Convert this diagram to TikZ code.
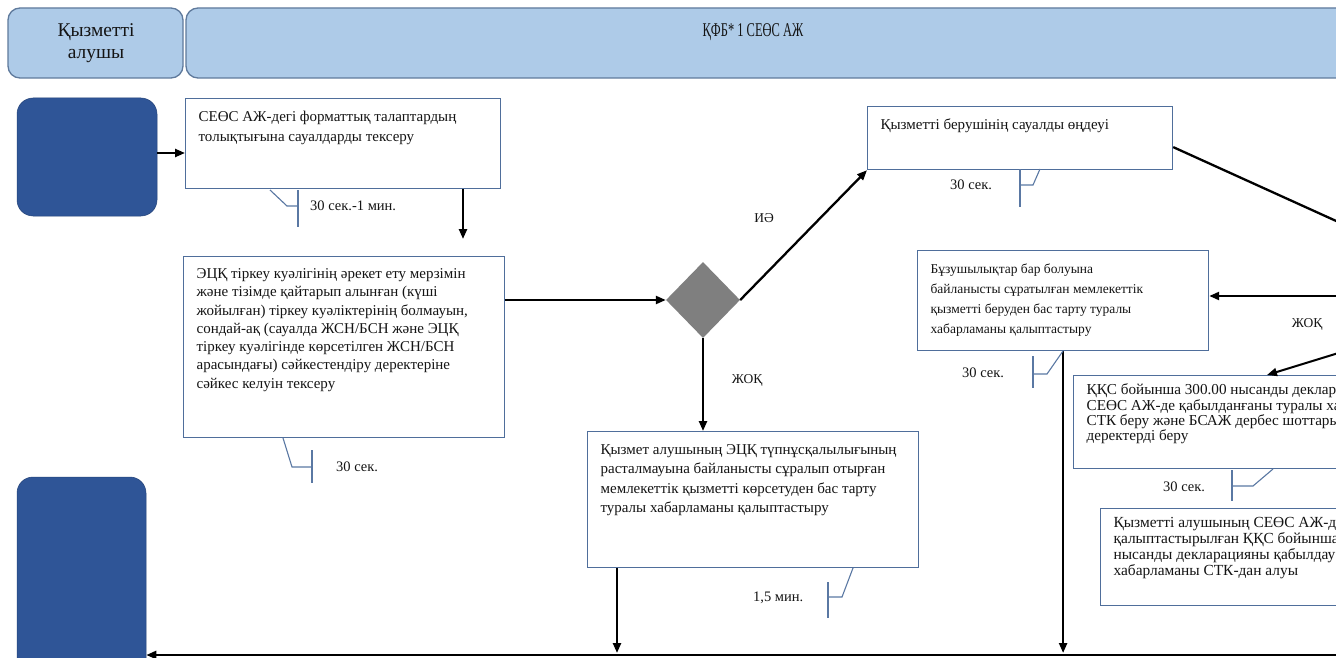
\documentclass[tikz,border=0pt]{standalone}
\usepackage{fontspec}
\setmainfont{Liberation Serif}
\usetikzlibrary{arrows.meta,shapes.geometric}

\definecolor{hdrfill}{HTML}{AECBE8}
\definecolor{hdrline}{HTML}{5F7A9C}
\definecolor{termblue}{HTML}{2F5597}
\definecolor{boxline}{HTML}{4F6E9B}
\definecolor{timeline}{HTML}{5A78A3}
\definecolor{decgray}{HTML}{7F7F7F}
\definecolor{inkc}{HTML}{141414}

% body of a process box: width, height, font size, baselineskip, text
\newcommand{\procbody}[5]{\parbox[t][#2][t]{#1}{\raggedright\fontsize{#3}{#4}\selectfont\strut #5}}

\tikzset{
  hdr/.style={draw=hdrline, line width=1.3pt, fill=hdrfill, rounded corners=12pt, inner sep=0pt},
  hdrtext/.style={font=\fontsize{19.5}{22}\selectfont, text=inkc, align=center, inner sep=0pt},
  term/.style={fill=termblue, draw=termblue!80!black, line width=0.5pt, rounded corners=16pt, inner sep=0pt},
  proc/.style={draw=boxline, line width=1.2pt, fill=white, anchor=north west,
               inner xsep=13pt, inner ysep=9pt, text=inkc},
  decision/.style={diamond, fill=decgray, inner sep=0pt, minimum width=74pt, minimum height=76pt},
  arr/.style={draw=black, line width=2.3pt, -{Triangle[length=10pt,width=8pt]}},
  plain/.style={draw=black, line width=2.3pt},
  timer/.style={draw=timeline, line width=1.1pt},
  tlabel/.style={font=\fontsize{14.5}{16}\selectfont, text=inkc, inner sep=1pt},
  flabel/.style={font=\fontsize{13.5}{15}\selectfont, text=inkc, inner sep=1pt},
}

\begin{document}
\begin{tikzpicture}[x=1pt,y=-1pt]
\useasboundingbox (0,0) rectangle (1336,658);
\clip (0,0) rectangle (1336,658);
\fill[white] (0,0) rectangle (1336,658);

% swimlane headers
\node[hdr, minimum width=175pt, minimum height=70pt] (h1) at (95.5,43) {};
\node[hdrtext] (h1t) at (96,43) {Қызметті\\алушы};
\node[hdr, minimum width=1170pt, minimum height=70pt] (h2) at (771,43) {};
\node[hdrtext] (h2t) at (753,32) {\scalebox{0.64}[1]{ҚФБ* 1 СЕӨС АЖ}};

% start and end terminals
\node[term, minimum width=140pt, minimum height=118pt] (s1) at (87,157) {};
\node[term, minimum width=129pt, minimum height=223pt] (s2) at (81.5,588.5) {};

% process boxes
\node[proc] (b1) at (185,98) {\procbody{289pt}{72pt}{15}{20pt}{СЕӨС АЖ-дегі форматтық талаптардың\\толықтығына сауалдарды тексеру}};
\node[proc] (b2) at (183,256) {\procbody{295pt}{163pt}{15}{18.3pt}{ЭЦҚ тіркеу куәлігінің әрекет ету мерзімін\\және тізімде қайтарып алынған (күші\\жойылған) тіркеу куәліктерінің болмауын,\\сондай-ақ (сауалда ЖСН/БСН және ЭЦҚ\\тіркеу куәлігінде көрсетілген ЖСН/БСН\\арасындағы) сәйкестендіру деректеріне\\сәйкес келуін тексеру}};
\node[proc] (b3) at (867,106) {\procbody{279pt}{45pt}{15}{20pt}{Қызметті берушінің сауалды өңдеуі}};
\node[proc] (b4) at (587,431) {\procbody{305pt}{118pt}{15}{19.5pt}{Қызмет алушының ЭЦҚ түпнұсқалылығының\\расталмауына байланысты сұралып отырған\\мемлекеттік қызметті көрсетуден бас тарту\\туралы хабарламаны қалыптастыру}};
\node[proc] (b5) at (917,250) {\procbody{265pt}{82pt}{13.5}{20pt}{Бұзушылықтар бар болуына\\байланысты сұратылған мемлекеттік\\қызметті беруден бас тарту туралы\\хабарламаны қалыптастыру}};
\node[proc, inner ysep=8pt] (b6) at (1073,375) {\procbody{330pt}{77pt}{15.2}{15pt}{ҚҚС бойынша 300.00 нысанды декларацияның\\СЕӨС АЖ-де қабылданғаны туралы хабарламаны\\СТК беру және БСАЖ дербес шоттарына\\деректерді беру}};
\node[proc, inner ysep=8pt] (b7) at (1100,508) {\procbody{300pt}{81pt}{15.4}{16pt}{Қызметті алушының СЕӨС АЖ-да\\қалыптастырылған ҚҚС бойынша 300.00\\нысанды декларацияны қабылдау туралы\\хабарламаны СТК-дан алуы}};

% decision
\node[decision] (d) at (703,300) {};

% free ends of connectors
\coordinate (a2end) at (463,239);
\coordinate (bl) at (617,653);
\coordinate (offA) at (1345,225);
\coordinate (offB) at (1345,296);
\coordinate (offC) at (1345,351);
\coordinate (b6in) at (1267,375);
\coordinate (offD) at (1345,655);

% connectors
\draw[arr] ([yshift=4pt]s1.east) -- ([yshift=4pt]s1.east -| b1.west);
\draw[arr] (b1.south -| a2end) -- (a2end);
\draw[arr] (d.west -| b2.east) -- (d.west);
\draw[arr] (d.east) -- (b3.south west);
\draw[arr] (d.south) -- (d.south |- b4.north);
\draw[arr] (b4.south -| bl) -- (bl);
\draw[plain] ([yshift=-9pt]b3.east) -- (offA);
\draw[arr] (offB) -- (offB -| b5.east);
\draw[arr, line width=2pt] (offC) -- (b6in);
\draw[arr] (b5.south) -- (b5.south |- bl);
\draw[arr, line width=2.8pt] (offD) -- (offD -| s2.east);

% branch labels
\node[flabel] (lyes) at (764,218) {ИӘ};
\node[flabel] (lno1) at (747,380) {ЖОҚ};
\node[flabel] (lno2) at (1307,324) {ЖОҚ};

% duration callouts
\draw[timer] (270,190) -- (287,206) -- (298,206);
\draw[timer] (298,190) -- (298,227);
\node[tlabel, anchor=west] (t1) at (309,206) {30 сек.-1 мин.};

\draw[timer] (283,438) -- (292,467) -- (312,467);
\draw[timer] (312,450) -- (312,483);
\node[tlabel, anchor=west] (t2) at (335,467) {30 сек.};

\draw[timer] (1040,169) -- (1033,185) -- (1020,185);
\draw[timer] (1020,169) -- (1020,207);
\node[tlabel, anchor=west] (t3) at (949,185) {30 сек.};

\draw[timer] (1063,351) -- (1047,374) -- (1033,374);
\draw[timer] (1033,356) -- (1033,388);
\node[tlabel, anchor=west] (t5) at (961,373) {30 сек.};

\draw[timer] (1273,469) -- (1253,486) -- (1232,486);
\draw[timer] (1232,470) -- (1232,501);
\node[tlabel, anchor=west] (t6) at (1162,487) {30 сек.};

\draw[timer] (853,568) -- (842,597) -- (828,597);
\draw[timer] (828,582) -- (828,618);
\node[tlabel, anchor=west] (t4) at (752,598) {1,5 мин.};
\end{tikzpicture}
\end{document}
